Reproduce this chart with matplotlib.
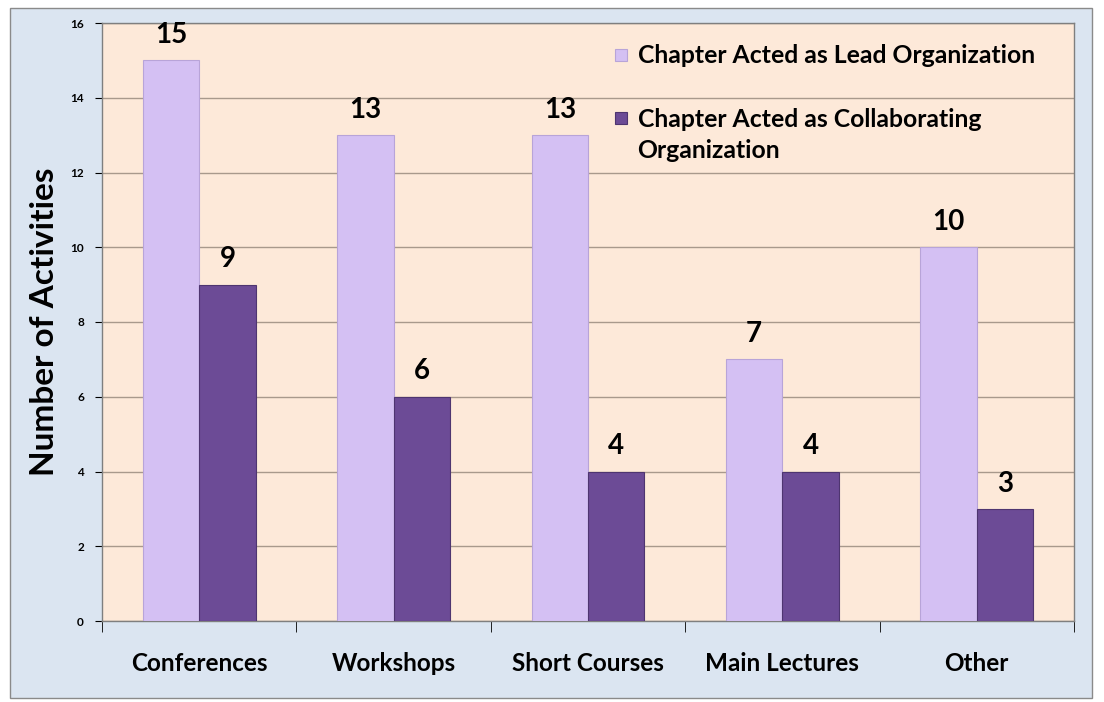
import matplotlib.pyplot as plt
import matplotlib.patches as mpatches
import numpy as np

plt.rcParams['font.family'] = ['Lato', 'DejaVu Sans']

categories = ["Conferences", "Workshops", "Short Courses", "Main Lectures", "Other"]
lead = [15, 13, 13, 7, 10]
collab = [9, 6, 4, 4, 3]
series_names = ["Chapter Acted as Lead Organization",
                "Chapter Acted as Collaborating\nOrganization"]

lead_color = "#d4c0f3"
collab_color = "#6c4b96"

fig = plt.figure(figsize=(11.04, 7.02), dpi=100)
fig.patch.set_facecolor("white")

# outer chart area
bg = mpatches.Rectangle((10 / 1104, 4 / 702), 1082 / 1104, 690 / 702,
                        transform=fig.transFigure, facecolor="#dbe5f1",
                        edgecolor="#8a8a8a", linewidth=1.0, zorder=-10)
fig.patches.append(bg)

ax = fig.add_axes([102 / 1104, 81 / 702, 972 / 1104, 598 / 702])
ax.set_facecolor("#fde9d9")

x = np.arange(len(categories))
w = 0.29
b1 = ax.bar(x - w / 2, lead, w, color=lead_color, edgecolor="#b8a4d8",
            linewidth=0.8, zorder=3)
b2 = ax.bar(x + w / 2, collab, w, color=collab_color, edgecolor="#4e3570",
            linewidth=0.8, zorder=3)

for bars, vals in ((b1, lead), (b2, collab)):
    for r, v in zip(bars, vals):
        ax.text(r.get_x() + r.get_width() / 2, v + 0.33, str(v),
                ha="center", va="bottom", fontsize=20, fontweight="bold")

ax.set_xlim(-0.5, len(categories) - 0.5)
ax.set_ylim(0, 16)
ax.set_yticks(range(0, 17, 2))
ax.tick_params(axis="y", labelsize=8.5, length=5, direction="out", pad=8)
for lab in ax.get_yticklabels():
    lab.set_fontweight("bold")

ax.set_xticks(x)
ax.set_xticklabels(categories, fontsize=17.5, fontweight="bold")
ax.set_xticks(np.arange(-0.5, len(categories)), minor=True)
ax.tick_params(axis="x", which="major", length=0, pad=22)
ax.tick_params(axis="x", which="minor", length=8, direction="out")

ax.grid(axis="y", color="#a8998c", linewidth=1.0, zorder=0)
ax.set_axisbelow(True)
for s in ax.spines.values():
    s.set_color("#7f7f7f")
    s.set_linewidth(1.0)

ax.set_ylabel("Number of Activities", fontsize=24, fontweight="bold", labelpad=8)

# legend, drawn as in the original: square key at the first line of each entry
legend_rows = [(0.946, 0.946), (0.841, 0.813)]
for (key_y, text_y), name, col, ec in zip(legend_rows, series_names,
                                          (lead_color, collab_color),
                                          ("#b8a4d8", "#4e3570")):
    ax.add_patch(mpatches.Rectangle((0.528, key_y - 0.01), 0.0125, 0.02,
                                    transform=ax.transAxes, facecolor=col,
                                    edgecolor=ec, linewidth=0.8, zorder=5))
    ax.text(0.551, text_y, name, transform=ax.transAxes, ha="left",
            va="center", fontsize=17.8, fontweight="bold", linespacing=1.4,
            zorder=5)

fig.savefig("out.png", dpi=100)
